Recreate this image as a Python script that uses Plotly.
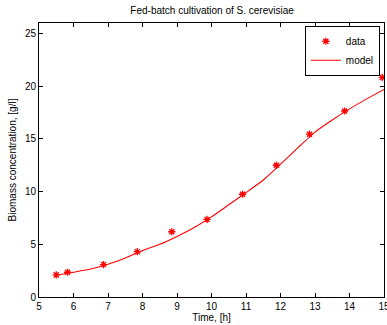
import plotly.graph_objects as go

# Data
data_t = [5.5, 5.83, 6.87, 7.85, 8.85, 9.87, 10.9, 11.88, 12.84, 13.86, 14.95]
data_x = [2.1, 2.35, 3.08, 4.3, 6.19, 7.36, 9.75, 12.5, 15.45, 17.65, 20.84]

model_t = [5.5, 6.0, 6.5, 7.0, 7.5, 8.0, 8.5, 9.0, 9.5, 10.0, 10.5, 11.0,
           11.5, 12.0, 12.5, 13.0, 13.5, 14.0, 14.5, 15.0]
model_x = [2.07, 2.35, 2.65, 3.1, 3.7, 4.4, 5.0, 5.75, 6.6, 7.6, 8.75, 9.9,
           11.1, 12.6, 14.15, 15.65, 16.8, 17.85, 18.8, 19.7]

title = "Fed-batch cultivation of S. cerevisiae"
x_title = "Time, [h]"
y_title = "Biomass concentration, [g/l]"

FONT = "Liberation Sans, Arial, sans-serif"

fig = go.Figure()
fig.add_trace(go.Scatter(
    x=data_t, y=data_x, mode="markers", name="data",
    marker=dict(symbol="asterisk-open", size=6, color="red",
                line=dict(color="red", width=1.3)),
))
fig.add_trace(go.Scatter(
    x=model_t, y=model_x, mode="lines", name="model",
    line=dict(color="red", width=1.1, shape="spline", smoothing=0.5),
))

axis_common = dict(
    showline=True, linecolor="black", linewidth=1, mirror="ticks",
    ticks="inside", ticklen=4, tickcolor="black", tickwidth=1,
    showgrid=False, zeroline=False, ticklabeloverflow="allow",
    automargin=False,
    tickfont=dict(family=FONT, size=10, color="black"),
)

fig.update_layout(
    width=387, height=325,
    margin=dict(l=39, r=3, t=23, b=28),
    paper_bgcolor="white", plot_bgcolor="white",
    font=dict(family=FONT, size=10, color="black"),
    title=dict(text=title, x=0.548, xanchor="center", y=0.968, yanchor="middle",
               font=dict(family=FONT, size=10, color="black")),
    xaxis=dict(range=[5, 15], dtick=1, tick0=5,
               title=dict(text=x_title, standoff=2, font=dict(family=FONT, size=10)),
               **axis_common),
    yaxis=dict(range=[0, 26], dtick=5, tick0=0,
               title=dict(text=y_title, standoff=6, font=dict(family=FONT, size=10)),
               **axis_common),
    legend=dict(x=0.988, y=0.99, xanchor="right", yanchor="top",
                bordercolor="black", borderwidth=1, bgcolor="white",
                font=dict(family=FONT, size=10, color="black"),
                tracegroupgap=0, itemwidth=30),
    showlegend=True,
)

fig.write_html("out.html", config={"displayModeBar": False},
               post_script="document.body.style.margin='0';document.body.style.overflow='hidden';")
